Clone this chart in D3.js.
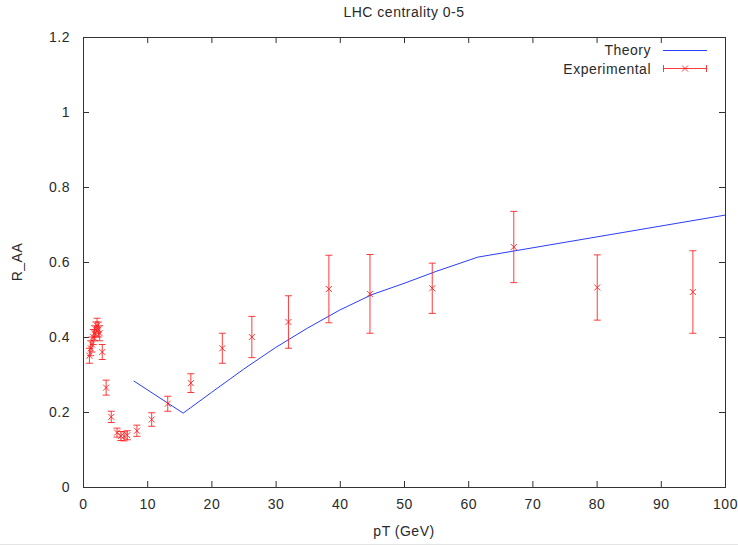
<!DOCTYPE html>
<html>
<head>
<meta charset="utf-8">
<script src="https://cdn.jsdelivr.net/npm/d3@7"></script>
<style>
body { margin: 0; background: #fff; }
text { font-family: "Liberation Sans", Arial, sans-serif; fill: #2a2a2a; letter-spacing: 0.5px; }
</style>
</head>
<body>
<svg id="vis_raa" width="738" height="546"></svg>
<script>
// experimental points: pT, R_AA, error
var expPt  = [1.0, 1.2, 1.4, 1.6, 1.8, 2.0, 2.2, 2.4, 2.6, 3.0, 3.6, 4.4, 5.3, 5.9, 6.4, 6.9, 8.4, 10.7, 13.2, 16.8, 21.7, 26.3, 32.0, 38.3, 44.7, 54.4, 67.1, 80.1, 95.0];
var expRaa = [0.35, 0.37, 0.38, 0.40, 0.41, 0.42, 0.43, 0.42, 0.41, 0.36, 0.265, 0.187, 0.145, 0.136, 0.135, 0.138, 0.150, 0.180, 0.222, 0.277, 0.370, 0.400, 0.440, 0.528, 0.515, 0.530, 0.640, 0.532, 0.520];
var expErr = [0.02, 0.02, 0.02, 0.02, 0.02, 0.02, 0.02, 0.02, 0.02, 0.02, 0.02, 0.015, 0.012, 0.012, 0.012, 0.012, 0.015, 0.018, 0.02, 0.025, 0.04, 0.055, 0.07, 0.09, 0.105, 0.067, 0.095, 0.087, 0.11];

// theory curve
var thPt  = [7.9, 15.6, 20, 25, 30, 35, 40, 45, 50, 55, 61.5, 100];
var thRaa = [0.283, 0.197, 0.252, 0.314, 0.372, 0.424, 0.472, 0.513, 0.543, 0.575, 0.613, 0.725];

var xTicks = [0, 10, 20, 30, 40, 50, 60, 70, 80, 90, 100];
var yTicks = [0, 0.2, 0.4, 0.6, 0.8, 1, 1.2];

var svg = d3.select("#vis_raa"),
  width = 738,
  height = 546;

var mLeft = 83, mRight = 725, mTop = 37, mBottom = 487;

var x = d3.scaleLinear().domain([0, 100]).range([mLeft, mRight]);
var y = d3.scaleLinear().domain([0, 1.2]).range([mBottom, mTop]);

// faint page edge at the bottom
svg.append("line")
  .attr("x1", 0).attr("x2", width)
  .attr("y1", 544.5).attr("y2", 544.5)
  .style("stroke", "#e4e4e4");

// axes (gnuplot style: ticks inside, mirrored)
var axisCol = "#333";
function styleAxis(g) {
  g.select(".domain").remove();
  g.selectAll("line").style("stroke", axisCol);
  g.selectAll("text").style("font-size", "14px").attr("fill", "#2a2a2a")
    .style("font-family", "Liberation Sans, Arial, sans-serif");
}
svg.append("g")
  .attr("transform", "translate(0," + mBottom + ")")
  .call(d3.axisBottom(x).tickValues(xTicks).tickSize(-6).tickPadding(12).tickFormat(d3.format("d")))
  .call(styleAxis);
svg.append("g")
  .attr("transform", "translate(0," + mTop + ")")
  .call(d3.axisTop(x).tickValues(xTicks).tickSize(-6).tickFormat(""))
  .call(styleAxis);
svg.append("g")
  .attr("transform", "translate(" + mLeft + ",0)")
  .call(d3.axisLeft(y).tickValues(yTicks).tickSize(-6).tickPadding(13).tickFormat(d3.format("~g")))
  .call(styleAxis);
svg.append("g")
  .attr("transform", "translate(" + mRight + ",0)")
  .call(d3.axisRight(y).tickValues(yTicks).tickSize(-6).tickFormat(""))
  .call(styleAxis);

svg.append("rect")
  .attr("x", mLeft + 0.5).attr("y", mTop + 0.5)
  .attr("width", mRight - mLeft).attr("height", mBottom - mTop)
  .style("fill", "none")
  .style("stroke", axisCol);

// titles
svg.append("text")
  .attr("x", 404).attr("y", 17)
  .attr("text-anchor", "middle")
  .style("font-size", "14px")
  .text("LHC centrality 0-5");
svg.append("text")
  .attr("x", 404).attr("y", 536)
  .attr("text-anchor", "middle")
  .style("font-size", "14px")
  .text("pT (GeV)");
svg.append("text")
  .attr("transform", "translate(22,262) rotate(-90)")
  .attr("text-anchor", "middle")
  .style("font-size", "14px")
  .text("R_AA");

// theory line
var line = d3.line()
  .x(function(d, i) { return x(thPt[i]); })
  .y(function(d) { return y(d); });
svg.append("path")
  .datum(thRaa)
  .attr("d", line)
  .style("fill", "none")
  .style("stroke", "#2b3cff")
  .style("stroke-width", 1);

// experimental points with error bars
var red = "#ff1a1a";
var pts = svg.append("g").selectAll("g")
  .data(expRaa)
  .enter()
  .append("g")
  .attr("class", "Point")
  .style("stroke", red)
  .style("stroke-width", 1)
  .style("stroke-opacity", 0.85);

var cap = 3.5, mk = 3;
pts.append("line")
  .attr("x1", function(d, i) { return x(expPt[i]); })
  .attr("x2", function(d, i) { return x(expPt[i]); })
  .attr("y1", function(d, i) { return y(d + expErr[i]); })
  .attr("y2", function(d, i) { return y(d - expErr[i]); });
pts.append("line")
  .attr("x1", function(d, i) { return x(expPt[i]) - cap; })
  .attr("x2", function(d, i) { return x(expPt[i]) + cap; })
  .attr("y1", function(d, i) { return y(d + expErr[i]); })
  .attr("y2", function(d, i) { return y(d + expErr[i]); });
pts.append("line")
  .attr("x1", function(d, i) { return x(expPt[i]) - cap; })
  .attr("x2", function(d, i) { return x(expPt[i]) + cap; })
  .attr("y1", function(d, i) { return y(d - expErr[i]); })
  .attr("y2", function(d, i) { return y(d - expErr[i]); });
pts.append("path")
  .attr("d", function(d, i) {
    var cx = x(expPt[i]), cy = y(d);
    return "M" + (cx - mk) + "," + (cy - mk) + "L" + (cx + mk) + "," + (cy + mk) +
           "M" + (cx - mk) + "," + (cy + mk) + "L" + (cx + mk) + "," + (cy - mk);
  })
  .style("fill", "none");

// legend
var lg = svg.append("g");
lg.append("text").attr("x", 651).attr("y", 55).attr("text-anchor", "end").style("font-size", "14px").text("Theory");
lg.append("line").attr("x1", 663).attr("x2", 707).attr("y1", 50.5).attr("y2", 50.5).style("stroke", "#2b3cff");
lg.append("text").attr("x", 651).attr("y", 74).attr("text-anchor", "end").style("font-size", "14px").text("Experimental");
var lgE = lg.append("g").style("stroke", red).style("stroke-opacity", 0.85);
lgE.append("line").attr("x1", 663).attr("x2", 707).attr("y1", 68.5).attr("y2", 68.5);
lgE.append("line").attr("x1", 663.5).attr("x2", 663.5).attr("y1", 65).attr("y2", 72);
lgE.append("line").attr("x1", 706.5).attr("x2", 706.5).attr("y1", 65).attr("y2", 72);
lgE.append("path").attr("d", "M682,65.5L688,71.5M682,71.5L688,65.5").style("fill", "none");
</script>
</body>
</html>
